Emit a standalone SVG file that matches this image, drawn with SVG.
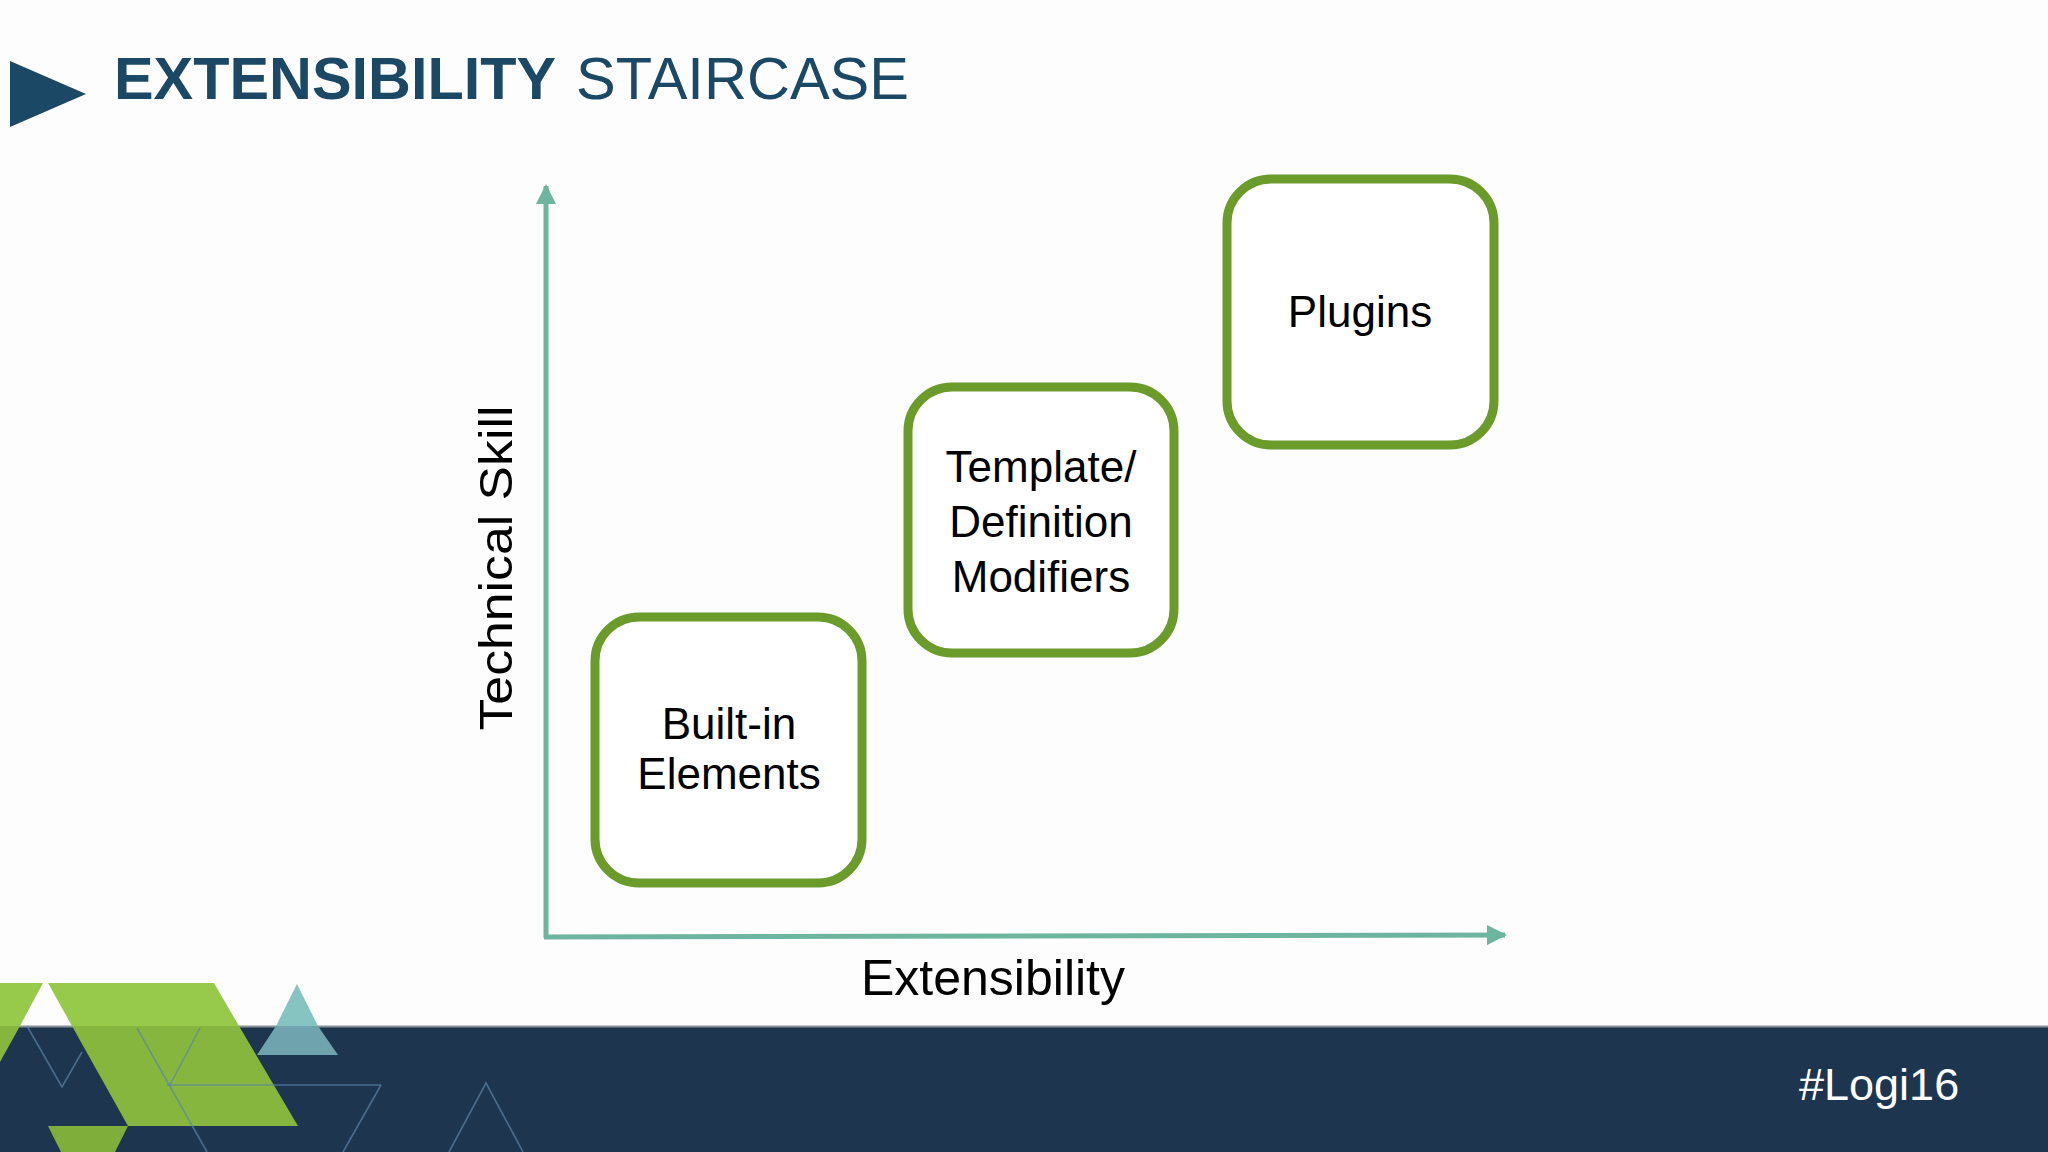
<svg xmlns="http://www.w3.org/2000/svg" width="2048" height="1152" viewBox="0 0 2048 1152">
  <style>
    .box { fill: #ffffff; stroke: #6a9b2b; stroke-width: 9; }
    .lbl { font-family: "Liberation Sans", Arial, sans-serif; font-size: 44px; fill: #000000; text-anchor: middle; }
    .axis { stroke: #6db59e; stroke-width: 5; fill: none; }
    .faint { stroke: #5d84a6; stroke-width: 1.6; fill: none; opacity: 0.7; }
  </style>
  <defs>
    <marker id="arr" viewBox="0 0 10 10" refX="9" refY="5" markerWidth="4" markerHeight="4" orient="auto" markerUnits="strokeWidth">
      <path d="M0,0 L10,5 L0,10 Z" fill="#6db59e"/>
    </marker>
  </defs>
  <rect x="0" y="0" width="2048" height="1152" fill="#fdfdfd"/>

  <!-- Title -->
  <g id="title">
    <polygon points="10,61 86,94 10,127" fill="#1b4965"/>
    <text x="114" y="99" font-family="Liberation Sans, Arial, sans-serif" font-size="60" font-weight="bold" fill="#1b4965" textLength="442" lengthAdjust="spacingAndGlyphs">EXTENSIBILITY</text>
    <text x="576" y="99" font-family="Liberation Sans, Arial, sans-serif" font-size="60" fill="#1b4965" textLength="333" lengthAdjust="spacingAndGlyphs">STAIRCASE</text>
  </g>

  <!-- Connectors (axes) -->
  <g id="connectors">
    <line class="axis" x1="546" y1="938" x2="546" y2="186" marker-end="url(#arr)"/>
    <line class="axis" x1="544" y1="937" x2="1505" y2="935" marker-end="url(#arr)"/>
  </g>

  <g id="label-y">
    <text transform="translate(512,568) rotate(-90)" font-family="Liberation Sans, Arial, sans-serif" font-size="47" fill="#000" text-anchor="middle" textLength="325" lengthAdjust="spacingAndGlyphs">Technical Skill</text>
  </g>
  <g id="label-x">
    <text x="993" y="995" font-family="Liberation Sans, Arial, sans-serif" font-size="50" fill="#000" text-anchor="middle">Extensibility</text>
  </g>

  <!-- Nodes -->
  <g id="node-builtin">
    <rect class="box" x="595" y="617" width="267" height="266" rx="44"/>
    <text class="lbl" x="729" y="739">Built-in</text>
    <text class="lbl" x="729" y="789">Elements</text>
  </g>
  <g id="node-template">
    <rect class="box" x="908" y="387" width="266" height="266" rx="44"/>
    <text class="lbl" x="1041" y="482">Template/</text>
    <text class="lbl" x="1041" y="537">Definition</text>
    <text class="lbl" x="1041" y="592">Modifiers</text>
  </g>
  <g id="node-plugins">
    <rect class="box" x="1227" y="179" width="267" height="266" rx="44"/>
    <text class="lbl" x="1360" y="327">Plugins</text>
  </g>

  <!-- Footer band -->
  <g id="footer">
    <rect x="0" y="1026" width="2048" height="126" fill="#1e3550"/>
    <line x1="0" y1="1026.5" x2="2048" y2="1026.5" stroke="#8a929c" stroke-width="2"/>
    <polygon points="297,984 276,1026 318,1026" fill="#86c4c1"/>
    <polygon points="276,1026 318,1026 338,1055 257,1055" fill="#6fa4ae"/>
    <polygon points="0,983 43,983 20,1026 0,1026" fill="#97c94b"/>
    <polygon points="0,1026 20,1026 0,1062" fill="#86b63d"/>
    <polygon points="48,983 214,983 239,1026 72,1026" fill="#97c94b"/>
    <polygon points="72,1026 239,1026 298,1126 128,1126" fill="#86b63d"/>
    <polygon points="48,1126 128,1126 88,1206" fill="#7fae3a"/>
    <polyline class="faint" points="27,1026 62,1087 82,1052"/>
    <line class="faint" x1="167" y1="1085" x2="381" y2="1085"/>
    <line class="faint" x1="381" y1="1085" x2="343" y2="1152"/>
    <line class="faint" x1="137" y1="1028" x2="207" y2="1152"/>
    <line class="faint" x1="200" y1="1028" x2="170" y2="1085"/>
    <polyline class="faint" points="449,1152 486,1083 523,1152"/>
    <text x="1799" y="1100" font-family="Liberation Sans, Arial, sans-serif" font-size="45" fill="#ffffff">#Logi16</text>
  </g>
</svg>
